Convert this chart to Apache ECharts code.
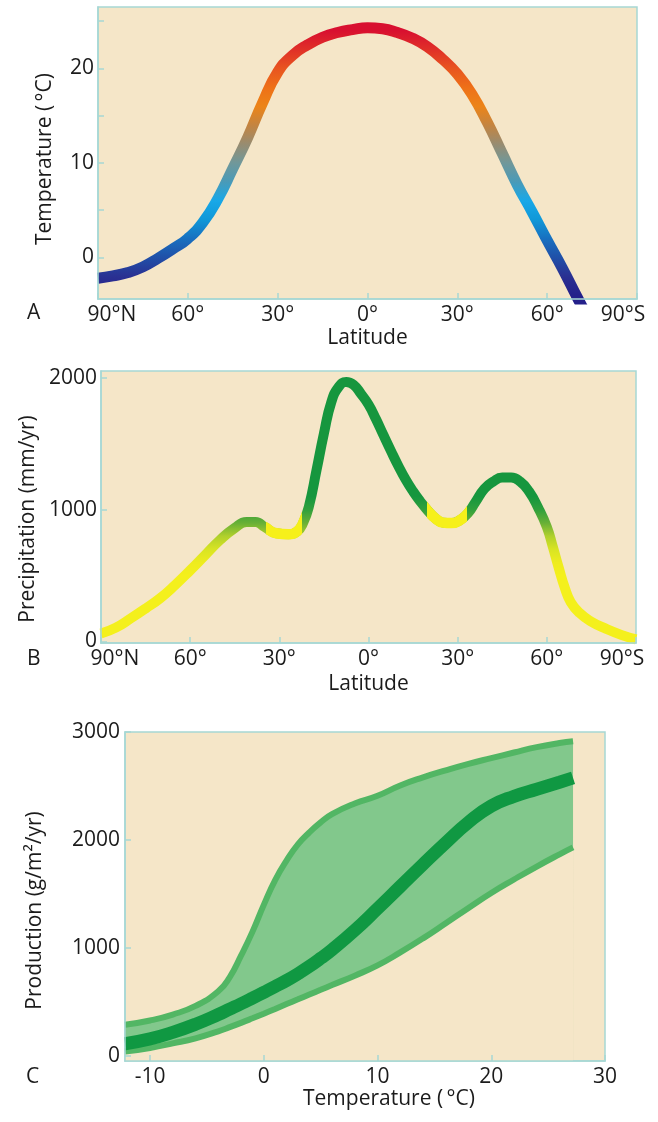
<!DOCTYPE html>
<html><head><meta charset="utf-8">
<script src="https://cdn.jsdelivr.net/npm/echarts@6/dist/echarts.min.js"></script>
<style>html,body{margin:0;padding:0;background:#fff}#c{width:658px;height:1122px}</style>
</head><body><div id="c"></div>
<script>
// ---------- data ----------
const latTicks = [-90, -60, -30, 0, 30, 60, 90];
const latLabels = ['90°N', '60°', '30°', '0°', '30°', '60°', '90°S'];

// Panel A: mean temperature vs latitude (negative = north)
const tempLat = [-90,-85,-80,-75,-70,-65,-60,-55,-50,-45,-40,-35,-30,-25,-20,-15,-10,-5,0,5,10,15,20,25,30,35,40,45,50,55,60,65,70,73];
const tempVal = [-2.2,-1.95,-1.6,-1.0,-0.1,0.9,2.0,3.7,6.2,9.4,12.7,16.4,19.6,21.4,22.5,23.3,23.8,24.1,24.3,24.2,23.8,23.2,22.3,21.0,19.4,17.2,14.3,11.0,7.7,4.8,1.8,-1.1,-4.2,-6.0];
const tempTicks = [0, 5, 10, 15, 20, 25];
const tempLabels = [0, 10, 20];

// Panel B: precipitation vs latitude
const precLat = [-90,-85,-80,-75,-70,-65,-60,-55,-50,-45,-41,-38,-35,-31,-27,-24,-22,-20,-17.5,-15,-12.5,-10,-7.5,-5,-2.5,0,2.5,5,7.5,10,12.5,15,17.5,20,22.5,25,28,31,33.5,36,39,42,45,48,51,54,57,60,62,64,66,68,71,75,80,85,90];
const precVal = [60,105,175,250,330,430,540,655,770,862,908,908,870,822,815,836,900,1030,1300,1580,1820,1935,1972,1950,1880,1800,1690,1569,1450,1335,1230,1140,1062,992,935,903,899,925,975,1060,1160,1215,1245,1245,1215,1140,1020,870,720,560,410,300,216,150,95,50,15];
const precTicks = [0, 1000, 2000];

// Panel C: production vs temperature
const prodTemp = [-12.2,-10,-8,-6,-4,-3,-2,-1,0,1,2,3,4,5,6,8,10,12,14,16,18,20,22,24,26,27.19];
const prodUpper = [290,330,385,465,600,730,930,1150,1400,1630,1810,1960,2070,2163,2240,2338,2410,2505,2580,2645,2705,2758,2810,2860,2898,2915];
const prodMean = [115,160,220,295,385,435,485,537,590,644,700,762,830,905,985,1165,1365,1570,1775,1975,2165,2315,2405,2470,2535,2575];
const prodLower = [43,76,118,165,230,268,308,350,393,437,482,526,570,614,658,745,840,960,1090,1230,1372,1510,1635,1755,1868,1932];
const prodXTicks = [-10, 0, 10, 20, 30];
const prodYTicks = [0, 1000, 2000, 3000];

// ---------- styles ----------
const FONT = '"Open Sans", "DejaVu Sans", sans-serif';
const TXT = '#1b1b1b';
const FRAME = '#a6d7d4';
const BG = '#f5e6c8';
const FS = 21;

const pair = (xs, ys) => xs.map((x, i) => [x, ys[i]]);

function xAxisLat(grid, gap, nameStr) {
  return {
    gridIndex: grid, type: 'value', min: -90, max: 90, z: 5,
    name: nameStr, nameLocation: 'middle', nameGap: gap,
    nameTextStyle: {fontFamily: FONT, fontSize: FS, color: TXT},
    axisLine: {show: true, onZero: false, lineStyle: {color: FRAME, width: 1.5}},
    axisTick: {show: true, inside: true, length: 6, customValues: latTicks, lineStyle: {color: FRAME, width: 1.5}},
    splitLine: {show: false},
    axisLabel: {
      customValues: latTicks, margin: 6, fontFamily: FONT, fontSize: FS, color: TXT,
      formatter: v => {
        const i = latTicks.indexOf(v);
        const t = latLabels[i];
        if (i === 0) return '{l|' + t + '}';
        if (i === latTicks.length - 1) return '{r|' + t + '}';
        return t;
      },
      rich: {
        l: {padding: [0, 0, 0, 28], fontFamily: FONT, fontSize: FS, color: TXT},
        r: {padding: [0, 28, 0, 0], fontFamily: FONT, fontSize: FS, color: TXT}
      }
    }
  };
}

function yAxisCommon(grid, min, max, ticks, labels, nameStr, gap, pad, margin) {
  return {
    gridIndex: grid, type: 'value', min: min, max: max, z: 5,
    name: nameStr, nameLocation: 'middle', nameGap: gap,
    nameTextStyle: {fontFamily: FONT, fontSize: FS, color: TXT, padding: pad},
    axisLine: {show: true, onZero: false, lineStyle: {color: FRAME, width: 1.5}},
    axisTick: {show: true, inside: true, length: 6, customValues: ticks, lineStyle: {color: FRAME, width: 1.5}},
    splitLine: {show: false},
    axisLabel: {customValues: labels, margin: margin, fontFamily: FONT, fontSize: FS, color: TXT,
                formatter: v => String(v)}
  };
}

const gridStyle = {show: true, backgroundColor: BG, borderColor: FRAME, borderWidth: 1.5, containLabel: false};

const option = {
  animation: false,
  backgroundColor: '#ffffff',
  grid: [
    Object.assign({left: 98, top: 7, width: 539, height: 292}, gridStyle),
    Object.assign({left: 101, top: 371, width: 535, height: 272}, gridStyle),
    Object.assign({left: 125, top: 732, width: 480, height: 329}, gridStyle)
  ],
  xAxis: [
    xAxisLat(0, 29, 'Latitude'),
    xAxisLat(1, 31, 'Latitude'),
    {
      gridIndex: 2, type: 'value', min: -12.2, max: 30, z: 5,
      name: 'Temperature (\u2009°C)', nameLocation: 'middle', nameGap: 27,
      nameTextStyle: {fontFamily: FONT, fontSize: FS, color: TXT, padding: [0, 0, 0, 48]},
      axisLine: {show: true, onZero: false, lineStyle: {color: FRAME, width: 1.5}},
      axisTick: {show: true, inside: true, length: 6, customValues: prodXTicks, lineStyle: {color: FRAME, width: 1.5}},
      splitLine: {show: false},
      axisLabel: {customValues: prodXTicks, margin: 6, fontFamily: FONT, fontSize: FS, color: TXT,
                  formatter: v => String(v)}
    }
  ],
  yAxis: [
    yAxisCommon(0, -4.4, 26.5, tempTicks, tempLabels, 'Temperature (\u2009°C)', 42, [0, 12, 0, 0], 4),
    yAxisCommon(1, -12, 2055, precTicks, precTicks, 'Precipitation (mm/yr)', 53, [0, 24, 0, 0], 4),
    yAxisCommon(2, -45, 3000, prodYTicks, prodYTicks, 'Production (g/m²/yr)', 79, [0, 28, 0, 0], 5)
  ],
  visualMap: [
    {type: 'continuous', show: false, seriesIndex: 0, dimension: 1, min: -4, max: 24,
     inRange: {color: ['#24208a','#2a3092','#2050a8','#1870c0','#1098d8','#18a8e8','#4a9ab8','#70989a','#988c70','#c48440','#ec8418','#ee7018','#e85420','#e03028','#d81030']}},
    {type: 'continuous', show: false, seriesIndex: 1, dimension: 1, min: 500, max: 1100,
     inRange: {color: ['#f4f01c','#eeec1e','#d8e424','#b0d02c','#68b036','#30a03c','#16963e']}},
    {type: 'piecewise', show: false, seriesIndex: 2, dimension: 0,
     pieces: [
       {lt: -34.5, color: 'rgba(0,0,0,0)'},
       {gte: -34.5, lt: -22.3, color: '#f6f01a'},
       {gte: -22.3, lt: 19.6, color: 'rgba(0,0,0,0)'},
       {gte: 19.6, lt: 33, color: '#f6f01a'},
       {gte: 33, color: 'rgba(0,0,0,0)'}
     ],
     outOfRange: {color: 'rgba(0,0,0,0)'}}
  ],
  graphic: [
    {type: 'text', left: 27, top: 303, style: {text: 'A', font: FS + 'px ' + FONT, fill: TXT}},
    {type: 'text', left: 27, top: 649, style: {text: 'B', font: FS + 'px ' + FONT, fill: TXT}},
    {type: 'text', left: 26, top: 1067, style: {text: 'C', font: FS + 'px ' + FONT, fill: TXT}}
  ],
  series: [
    {type: 'line', xAxisIndex: 0, yAxisIndex: 0, data: pair(tempLat, tempVal), smooth: true,
     showSymbol: false, lineStyle: {width: 11}, z: 3},
    {type: 'line', xAxisIndex: 1, yAxisIndex: 1, data: pair(precLat, precVal), smooth: true,
     showSymbol: false, lineStyle: {width: 10}, z: 3},
    {type: 'line', xAxisIndex: 1, yAxisIndex: 1, data: pair(precLat, precVal), smooth: true,
     showSymbol: false, lineStyle: {width: 10.5}, z: 4},
    // band: upper area filled green, lower area repainted with background
    {type: 'line', xAxisIndex: 2, yAxisIndex: 2, data: pair(prodTemp, prodUpper), smooth: true,
     showSymbol: false, lineStyle: {width: 0, opacity: 0}, areaStyle: {color: '#82c88c', opacity: 1, origin: 'start'}, z: 2},
    {type: 'line', xAxisIndex: 2, yAxisIndex: 2, data: pair(prodTemp, prodLower), smooth: true,
     showSymbol: false, lineStyle: {width: 0, opacity: 0}, areaStyle: {color: BG, opacity: 1, origin: 'start'}, z: 2},
    {type: 'line', xAxisIndex: 2, yAxisIndex: 2, data: pair(prodTemp, prodUpper), smooth: true,
     showSymbol: false, lineStyle: {width: 6, color: '#52b664'}, z: 3},
    {type: 'line', xAxisIndex: 2, yAxisIndex: 2, data: pair(prodTemp, prodLower), smooth: true,
     showSymbol: false, lineStyle: {width: 6, color: '#52b664'}, z: 3},
    {type: 'line', xAxisIndex: 2, yAxisIndex: 2, data: pair(prodTemp, prodMean), smooth: true,
     showSymbol: false, lineStyle: {width: 13, color: '#109842'}, z: 4}
  ]
};

const chart = echarts.init(document.getElementById('c'));
chart.setOption(option);
</script>
</body></html>
